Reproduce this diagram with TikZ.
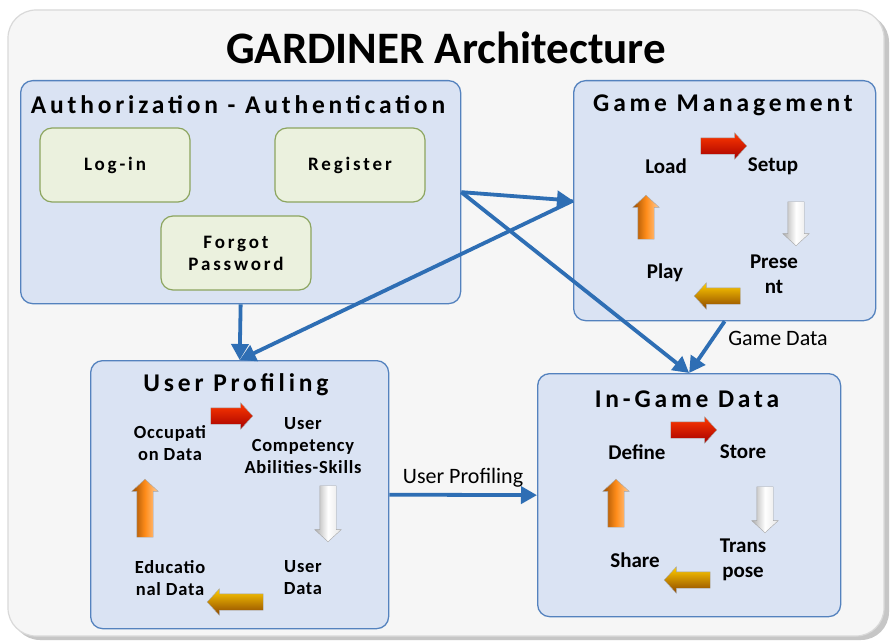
\documentclass[tikz,border=0pt]{standalone}
\usepackage{fontspec}
\setmainfont{Carlito}
\newfontfamily\spc[LetterSpace=15]{Carlito}
\newfontfamily\spcs[LetterSpace=15]{Carlito}
\newfontfamily\spct[LetterSpace=4]{Carlito}
\usetikzlibrary{shapes.arrows,arrows.meta}
\definecolor{boxfill}{RGB}{218,227,243}
\definecolor{boxline}{RGB}{84,130,190}
\definecolor{grnfill}{RGB}{235,241,222}
\definecolor{grnline}{RGB}{140,165,95}
\definecolor{conncol}{RGB}{46,110,180}
\definecolor{framefill}{RGB}{246,246,246}
\tikzset{
  bigbox/.style={draw=boxline, fill=boxfill, line width=1.3pt, rounded corners=12pt, anchor=north west, inner sep=0pt},
  grnbox/.style={draw=grnline, fill=grnfill, line width=1.2pt, rounded corners=12pt, minimum width=150pt, minimum height=74pt, font=\spcs\bfseries\fontsize{19}{22}\selectfont, align=center},
  boxtitle/.style={font=\spc\bfseries\fontsize{25.5}{28}\selectfont, inner sep=0pt},
  cyclbl/.style={font=\bfseries\fontsize{21}{25}\selectfont, align=center, inner sep=0pt},
  cyclbls/.style={font=\spct\bfseries\fontsize{18.5}{22}\selectfont, align=center, inner sep=0pt},
  conn/.style={draw=conncol, line width=3.8pt, -{Triangle[length=16pt,width=17pt]}},
  connlbl/.style={font=\fontsize{22}{25}\selectfont, inner sep=0pt},
  blk/.style={single arrow, draw=black!35, line width=0.4pt, inner xsep=2pt, inner ysep=8pt, single arrow head extend=5pt, single arrow tip angle=95},
  redarr/.style={blk, top color=red!55!orange, bottom color=red!65!black},
  grayarr/.style={blk, left color=gray!65, right color=gray!20, middle color=white},
  yelarr/.style={blk, top color=yellow!60!orange, bottom color=orange!55!black},
  orgarr/.style={blk, left color=orange!60!black, right color=orange!40!white, middle color=orange!90}
}
\begin{document}
\begin{tikzpicture}[x=1pt,y=-1pt]
\useasboundingbox (0,0) rectangle (892,642);
\fill[white] (0,0) rectangle (892,642);
% outer frame with shadow
\fill[gray!45, rounded corners=28pt] (12,14) rectangle (889,640);
\draw[draw=gray!30, fill=framefill, line width=1.2pt, rounded corners=28pt] (8,10) rectangle (884,636);
\node[font=\bfseries\fontsize{45}{50}\selectfont, inner sep=0pt] (title) at (446,48) {GARDINER Architecture};

% boxes
\node[bigbox, minimum width=440pt, minimum height=223pt] (auth) at (20,80) {};
\node[bigbox, minimum width=302pt, minimum height=240pt] (gm) at (573,80) {};
\node[bigbox, minimum width=298pt, minimum height=268pt] (up) at (90,360) {};
\node[bigbox, minimum width=303pt, minimum height=243pt] (igd) at (537,373) {};

% titles
\node[boxtitle] (authT) at (238,105) {Authorization - Authentication};
\node[boxtitle] (gmT) at (723,105) {Game Management};
\node[boxtitle] (upT) at (236,385) {User Profiling};
\node[boxtitle] (igdT) at (687,399) {In-Game Data};

% green boxes
\node[grnbox] (login) at (115,165) {Log-in};
\node[grnbox] (reg) at (350,165) {Register};
\node[grnbox] (forgot) at (236,253) {Forgot\\Password};

% Game management cycle
\node[cyclbl] (load) at (666,166) {Load};
\node[cyclbl] (setup) at (773,166) {Setup};
\node[cyclbl] (present) at (774,274) {Prese\\nt};
\node[cyclbl] (play) at (665,273) {Play};
\node[redarr, minimum height=46pt] (gmA1) at (720,146) {};
\node[grayarr, minimum height=44pt, rotate=-90] (gmA2) at (796,220) {};
\node[yelarr, minimum height=46pt, rotate=180] (gmA3) at (721,296) {};
\node[orgarr, minimum height=44pt, rotate=90] (gmA4) at (646,221) {};

% User profiling cycle
\node[cyclbls] (occ) at (170,443) {Occupati\\on Data};
\node[cyclbls] (comp) at (303,446) {User\\Competency\\Abilities-Skills};
\node[cyclbls] (udata) at (303,578) {User\\Data};
\node[cyclbls] (edu) at (170,578) {Educatio\\nal Data};
\node[redarr, minimum height=42pt] (upA1) at (228,416) {};
\node[grayarr, minimum height=56pt, rotate=-90] (upA2) at (328,510) {};
\node[yelarr, minimum height=56pt, rotate=180] (upA3) at (239,602) {};
\node[orgarr, minimum height=58pt, rotate=90] (upA4) at (145,512) {};

% In-game data cycle
\node[cyclbl] (define) at (637,452) {Define};
\node[cyclbl] (store) at (743,452) {Store};
\node[cyclbl] (transp) at (743,560) {Trans\\pose};
\node[cyclbl] (share) at (635,560) {Share};
\node[redarr, minimum height=46pt] (igA1) at (690,430) {};
\node[grayarr, minimum height=46pt, rotate=-90] (igA2) at (765,506) {};
\node[yelarr, minimum height=46pt, rotate=180] (igA3) at (691,580) {};
\node[orgarr, minimum height=48pt, rotate=90] (igA4) at (616,507) {};

% connectors
\draw[conn] (auth.south) -- (up.north);
\draw[conn] (auth.east) -- (gm.west);
\draw[conn] (gm.west) -- (up.north);
\draw[conn] (auth.east) -- (igd.north);
\draw[conn] (gm.south) -- (igd.north);
\draw[conn] (up.east) -- (igd.west);
\node[connlbl] (gdl) at (778,338) {Game Data};
\node[connlbl] (upl) at (463,478) {User Profiling};
\end{tikzpicture}
\end{document}
